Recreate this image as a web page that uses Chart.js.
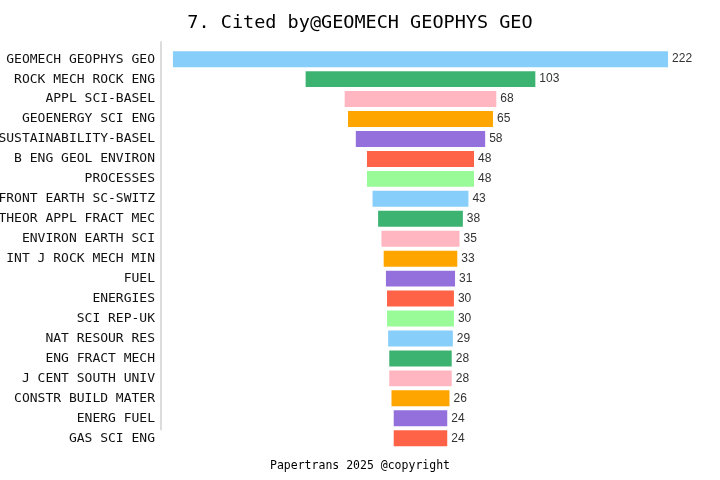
<!DOCTYPE html>
<html>
<head>
<meta charset="utf-8">
<script src="https://cdn.jsdelivr.net/npm/chart.js@4"></script>
<style>
  html, body { margin: 0; padding: 0; background: #fff; }
  #wrap { width: 720px; height: 480px; }
</style>
</head>
<body>
<div id="wrap"><canvas id="grafico"></canvas></div>
<script>
// dados
const revistas = [
    'GEOMECH GEOPHYS GEO', 'ROCK MECH ROCK ENG', 'APPL SCI-BASEL', 'GEOENERGY SCI ENG',
    'SUSTAINABILITY-BASEL', 'B ENG GEOL ENVIRON', 'PROCESSES', 'FRONT EARTH SC-SWITZ',
    'THEOR APPL FRACT MEC', 'ENVIRON EARTH SCI', 'INT J ROCK MECH MIN', 'FUEL',
    'ENERGIES', 'SCI REP-UK', 'NAT RESOUR RES', 'ENG FRACT MECH',
    'J CENT SOUTH UNIV', 'CONSTR BUILD MATER', 'ENERG FUEL', 'GAS SCI ENG'
];
const citacoes = [222, 103, 68, 65, 58, 48, 48, 43, 38, 35, 33, 31, 30, 30, 29, 28, 28, 26, 24, 24];
const paleta = ['#87CEFA', '#3CB371', '#FFB6C1', '#FFA500', '#9370DB', '#FF6347', '#98FB98'];

const mono = "'DejaVu Sans Mono', 'Liberation Mono', monospace";

// rótulos de valor no fim de cada barra
const rotulosValor = {
    id: 'rotulosValor',
    afterDatasetsDraw(chart) {
        const ctx = chart.ctx;
        const meta = chart.getDatasetMeta(0);
        ctx.save();
        ctx.font = "12px 'Liberation Sans', Arial, sans-serif";
        ctx.fillStyle = '#333';
        ctx.textAlign = 'left';
        ctx.textBaseline = 'middle';
        meta.data.forEach((bar, i) => {
            ctx.fillText(String(citacoes[i]), bar.x + 4, bar.y);
        });
        ctx.restore();
    }
};

// linha do eixo vertical (um pouco mais curta que a área)
const linhaEixo = {
    id: 'linhaEixo',
    beforeDatasetsDraw(chart) {
        const { ctx, chartArea } = chart;
        ctx.save();
        ctx.strokeStyle = '#d0d0d0';
        ctx.lineWidth = 1.5;
        ctx.beginPath();
        ctx.moveTo(chartArea.left, chartArea.top - 8);
        ctx.lineTo(chartArea.left, chartArea.bottom - 18);
        ctx.stroke();
        ctx.restore();
    }
};

new Chart(document.getElementById('grafico'), {
    type: 'bar',
    data: {
        labels: revistas,
        datasets: [{
            data: citacoes.map(v => [-v / 2, v / 2]),
            backgroundColor: citacoes.map((v, i) => paleta[i % paleta.length]),
            borderWidth: 0,
            barPercentage: 0.8,
            categoryPercentage: 1
        }]
    },
    options: {
        indexAxis: 'y',
        responsive: true,
        maintainAspectRatio: false,
        animation: false,
        layout: { padding: 0 },
        plugins: {
            legend: { display: false },
            tooltip: { enabled: false },
            title: {
                display: true,
                text: '7. Cited by@GEOMECH GEOPHYS GEO',
                color: '#000',
                font: { family: mono, size: 18.5, weight: 'normal' },
                padding: { top: 12, bottom: 15 }
            },
            subtitle: {
                display: true,
                position: 'bottom',
                text: 'Papertrans 2025 @copyright',
                color: '#000',
                font: { family: mono, size: 11.5, weight: 'normal' },
                padding: { top: 11, bottom: 7 }
            }
        },
        scales: {
            x: {
                display: false,
                min: -116.35,
                max: 134.3
            },
            y: {
                grid: { display: false, drawTicks: false },
                border: { display: false },
                ticks: {
                    color: '#111',
                    padding: 6,
                    autoSkip: false,
                    font: { family: mono, size: 13 }
                },
                afterFit(scale) { scale.width = 161; }
            }
        }
    },
    plugins: [rotulosValor, linhaEixo]
});
</script>
</body>
</html>
